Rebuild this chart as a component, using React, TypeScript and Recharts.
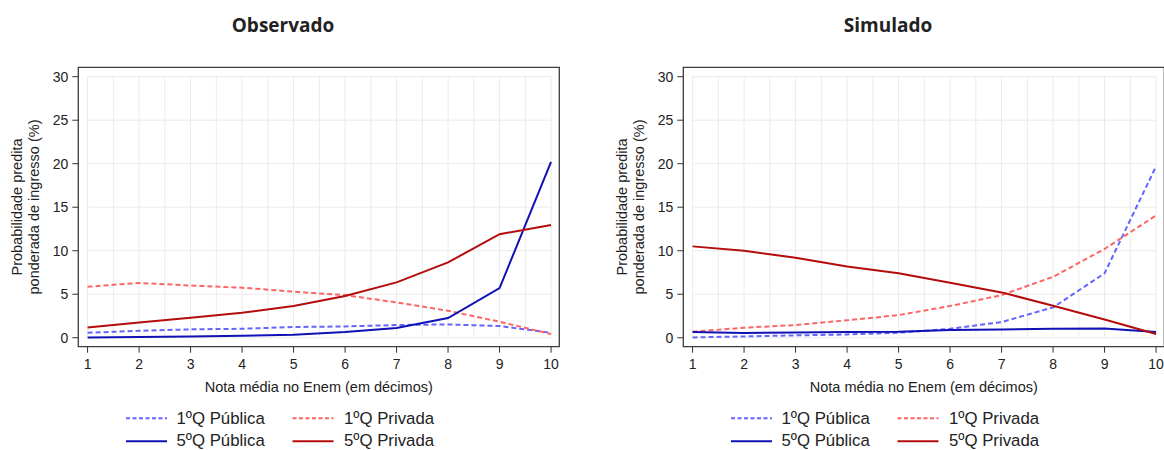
import React from 'react';
import { LineChart, Line, XAxis, YAxis, ReferenceLine, ReferenceArea, Legend } from 'recharts';

// ---- data ----
const categories = [1, 2, 3, 4, 5, 6, 7, 8, 9, 10];
const xTicks = [1, 2, 3, 4, 5, 6, 7, 8, 9, 10];
const yTicks = [0, 5, 10, 15, 20, 25, 30];
const xGrid = [1, 1.5, 2, 2.5, 3, 3.5, 4, 4.5, 5, 5.5, 6, 6.5, 7, 7.5, 8, 8.5, 9, 9.5, 10];

const panelTitles = ['Observado', 'Simulado'];
const xTitle = 'Nota média no Enem (em décimos)';
const yTitleLines = ['Probabilidade predita', 'ponderada de ingresso (%)'];
const seriesNames = ['1ºQ Pública', '1ºQ Privada', '5ºQ Pública', '5ºQ Privada'];

// Observado
const obsPub1 = [0.57, 0.8, 0.96, 1.03, 1.23, 1.3, 1.46, 1.53, 1.34, 0.57];
const obsPriv1 = [5.86, 6.3, 6.0, 5.75, 5.29, 4.9, 4.06, 3.1, 1.84, 0.42];
const obsPub5 = [0.04, 0.08, 0.15, 0.23, 0.34, 0.65, 1.11, 2.26, 5.7, 20.2];
const obsPriv5 = [1.19, 1.76, 2.3, 2.87, 3.64, 4.79, 6.36, 8.66, 11.9, 12.95];

// Simulado
const simPub1 = [0.04, 0.15, 0.27, 0.38, 0.57, 1.03, 1.8, 3.49, 7.4, 19.7];
const simPriv1 = [0.69, 1.15, 1.46, 2.0, 2.6, 3.64, 4.9, 7.0, 10.2, 14.06];
const simPub5 = [0.65, 0.54, 0.61, 0.65, 0.69, 0.88, 0.96, 1.03, 1.07, 0.65];
const simPriv5 = [10.5, 10.0, 9.2, 8.2, 7.4, 6.32, 5.21, 3.68, 2.1, 0.42];

// ---- styles ----
const seriesStyle = [
  { key: 'pub1', color: '#6464ff', dash: '5 3' },
  { key: 'priv1', color: '#ff6464', dash: '5 3' },
  { key: 'pub5', color: '#1010b4', dash: undefined },
  { key: 'priv5', color: '#b40c0c', dash: undefined },
];

const AXIS_FONT = 'Liberation Sans, Arial, sans-serif';
const X_DOMAIN: [number, number] = [0.82, 10.16];
const Y_DOMAIN: [number, number] = [-1.03, 31.08];
const W = 580;
const H = 450;

function buildData(a: number[], b: number[], c: number[], d: number[]) {
  return categories.map((x, i) => ({ x, pub1: a[i], priv1: b[i], pub5: c[i], priv5: d[i] }));
}

const LegendContent = () => {
  const cols = [
    { lx: 126, tx: 176.5 },
    { lx: 292.5, tx: 344 },
  ];
  const rows = [{ ly: 18.3, ty: 24.3 }, { ly: 41.2, ty: 46.2 }];
  return (
    <svg width={W} height={50} style={{ display: 'block', overflow: 'visible' }}>
      {seriesNames.map((name, i) => {
        const col = cols[i % 2];
        const row = rows[Math.floor(i / 2)];
        const st = seriesStyle[i];
        return (
          <g key={name}>
            <line x1={col.lx} x2={col.lx + 41} y1={row.ly} y2={row.ly} stroke={st.color} strokeWidth={2} strokeDasharray={st.dash ? '4 2.5' : undefined} />
            <text x={col.tx} y={row.ty} fontSize={16.8} fontFamily={AXIS_FONT} fill="#222">{name}</text>
          </g>
        );
      })}
    </svg>
  );
};

function Panel({ title, data }: { title: string; data: any[] }) {
  return (
    <LineChart width={W} height={H} data={data} margin={{ top: 67.3, right: 20.7, bottom: 73.3, left: 0 }}>
      <XAxis
        type="number"
        dataKey="x"
        domain={X_DOMAIN}
        ticks={xTicks}
        interval={0}
        allowDataOverflow
        height={30}
        tickSize={6}
        tickMargin={6.6}
        axisLine={false}
        tickLine={{ stroke: '#333' }}
        tick={{ fontSize: 14, fill: '#222', fontFamily: AXIS_FONT }}
        label={{
          content: (p: any) => {
            const vb = p.viewBox || {};
            return (
              <text x={vb.x + vb.width / 2} y={vb.y + 45.5} textAnchor="middle" fontSize={14.5} fontFamily={AXIS_FONT} fill="#222">
                {xTitle}
              </text>
            );
          },
        }}
      />
      <YAxis
        type="number"
        domain={Y_DOMAIN}
        ticks={yTicks}
        interval={0}
        allowDataOverflow
        width={78.3}
        tickSize={6}
        tickMargin={4}
        axisLine={false}
        tickLine={{ stroke: '#333' }}
        tick={{ fontSize: 14, fill: '#222', fontFamily: AXIS_FONT }}
        label={{
          content: (p: any) => {
            const vb = p.viewBox || {};
            const cy = vb.y + vb.height / 2;
            return (
              <g>
                <text x={22.3} y={cy} transform={`rotate(-90, 22.3, ${cy})`} textAnchor="middle" fontSize={14.5} fontFamily={AXIS_FONT} fill="#222">
                  {yTitleLines[0]}
                </text>
                <text x={38.9} y={cy} transform={`rotate(-90, 38.9, ${cy})`} textAnchor="middle" fontSize={14.5} fontFamily={AXIS_FONT} fill="#222">
                  {yTitleLines[1]}
                </text>
              </g>
            );
          },
        }}
      />
      {xGrid.map((gx) => (
        <ReferenceLine key={'vx' + gx} segment={[{ x: gx, y: 0 }, { x: gx, y: 30 }]} stroke="#ebebeb" strokeWidth={1} />
      ))}
      {yTicks.map((gy) => (
        <ReferenceLine key={'hy' + gy} segment={[{ x: 1, y: gy }, { x: 10, y: gy }]} stroke="#ebebeb" strokeWidth={1} />
      ))}
      <ReferenceArea x1={X_DOMAIN[0]} x2={X_DOMAIN[1]} y1={Y_DOMAIN[0]} y2={Y_DOMAIN[1]} fill="none" fillOpacity={0} stroke="#3c3c3c" strokeWidth={1.3} strokeOpacity={1} />
      {seriesStyle.map((s, i) => (
        <Line
          key={s.key}
          type="linear"
          dataKey={s.key}
          name={seriesNames[i]}
          stroke={s.color}
          strokeWidth={2}
          strokeDasharray={s.dash}
          dot={false}
          activeDot={false}
          isAnimationActive={false}
        />
      ))}
      <text x={W / 2 - 7} y={31.5} textAnchor="middle" fontSize={19} fontWeight={700} fontFamily="Open Sans, Noto Sans, sans-serif" fill="#222">
        {title}
      </text>
      <Legend
        layout="vertical"
        align="center"
        verticalAlign="middle"
        content={() => <LegendContent />}
        wrapperStyle={{ position: 'absolute', left: 0, top: 400, width: W, height: 50, margin: 0 }}
      />
    </LineChart>
  );
}

export default function App() {
  const obsData = buildData(obsPub1, obsPriv1, obsPub5, obsPriv5);
  const simData = buildData(simPub1, simPriv1, simPub5, simPriv5);
  return (
    <div style={{ position: 'absolute', left: 0, top: 0, width: 1164, height: 450, overflow: 'hidden', background: '#fff' }}>
      <div style={{ position: 'absolute', left: 0, top: 0 }}>
        <Panel title={panelTitles[0]} data={obsData} />
      </div>
      <div style={{ position: 'absolute', left: 604.8, top: 0 }}>
        <Panel title={panelTitles[1]} data={simData} />
      </div>
    </div>
  );
}
